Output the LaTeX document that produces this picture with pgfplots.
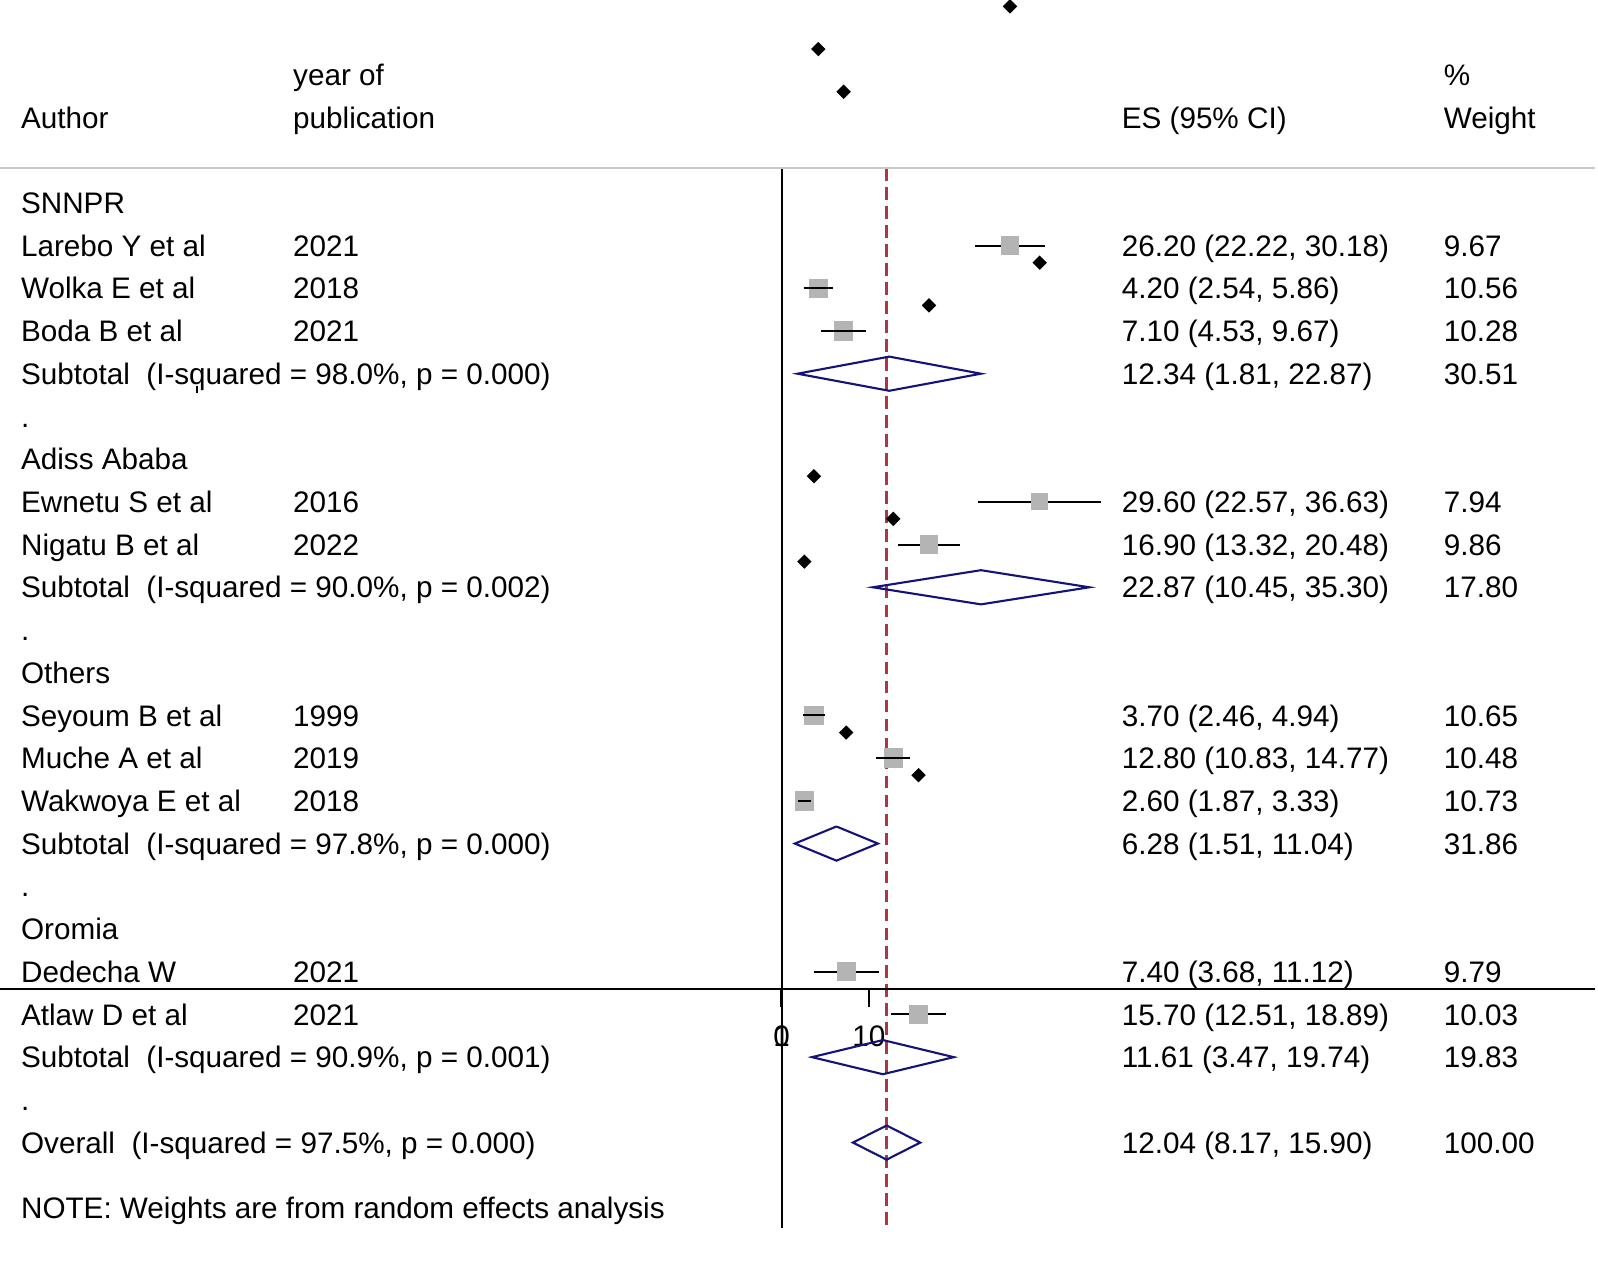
\documentclass[border=0pt]{standalone}
\usepackage{fontspec}
\setmainfont{Liberation Sans}
\usepackage{pgfplots}
\pgfplotsset{compat=1.18}
\usepackage{pgfplotstable}

\definecolor{boxgray}{RGB}{180,180,180}
\definecolor{dnavy}{RGB}{20,20,120}
\definecolor{refred}{RGB}{170,55,65}
\definecolor{rulegray}{RGB}{200,200,200}

% row = line of the table, es/lo/hi = estimate and CI, w = % weight
% top = 1 where the CI line is drawn over the box
\pgfplotstableread{
row es lo hi w top
1 26.20 22.22 30.18 9.67 0
2 4.20 2.54 5.86 10.56 1
3 7.10 4.53 9.67 10.28 1
7 29.60 22.57 36.63 7.94 0
8 16.90 13.32 20.48 9.86 0
12 3.70 2.46 4.94 10.65 1
13 12.80 10.83 14.77 10.48 1
14 2.60 1.87 3.33 10.73 1
18 7.40 3.68 11.12 9.79 0
19 15.70 12.51 18.89 10.03 0
}\studies

% one table row of text: row, author, year, ES (CI), weight
\newcommand{\trow}[5]{%
  \node[txt] at (axis cs:-87.37,#1+0.25) {#2};
  \node[txt] at (axis cs:-56.14,#1+0.25) {#3};
  \node[txt] at (axis cs:38.95,#1+0.25) {#4};
  \node[txt] at (axis cs:75.91,#1+0.25) {#5};
}

\begin{document}
\begin{tikzpicture}[font=\fontsize{8.44}{10.1}\selectfont,
  txt/.style={anchor=base west, inner sep=0pt}]
\begin{axis}[
    scale only axis,
    width=454.6pt, height=360.2pt,
    xmin=-89.71, xmax=93.68,
    ymin=-4.749, ymax=24.893,
    y dir=reverse,
    hide axis,
    clip=false,
    clip marker paths=true,
]
\coordinate (c1) at (rel axis cs:0,0);
\coordinate (c2) at (rel axis cs:1,1);

% reference line at the overall estimate
\addplot[refred, line width=0.7pt, dash pattern=on 3.6pt off 1.8pt] coordinates {(12.04,-0.81) (12.04,24.01)};
% null line
\addplot[black, line width=0.6pt] coordinates {(0,-0.81) (0,24.01)};
% header rule
\addplot[rulegray, line width=0.6pt] coordinates {(-89.71,-0.81) (93.33,-0.81)};
% x axis drawn across the rows
\addplot[black, line width=0.55pt] coordinates {(-89.71,18.40) (93.33,18.40)};
\addplot[black, line width=0.9pt] coordinates {(0,18.40) (0,18.83)};
\addplot[black, line width=0.55pt] coordinates {(10,18.40) (10,18.83)};
\node[anchor=base, inner sep=0pt] at (axis cs:0,19.74) {0};
\node[anchor=base, inner sep=0pt] at (axis cs:0,19.74) {1};
\node[anchor=base, inner sep=0pt] at (axis cs:10,19.74) {10};

% confidence intervals
\addplot[black, line width=0.6pt, mark=none,
  quiver={u=\thisrow{hi}-\thisrow{lo}, v=0}]
  table[x=lo, y=row] {\studies};

% weighted boxes
\addplot[scatter, only marks, mark=square*,
  scatter/use mapped color={draw=boxgray, fill=boxgray},
  visualization depends on={0.788*sqrt(\thisrow{w}) \as \msz},
  scatter/@pre marker code/.append style={/tikz/mark size=\msz pt}]
  table[x=es, y=row] {\studies};

% CI lines that lie over their box (zero length where top = 0)
\addplot[black, line width=0.6pt, mark=none, line cap=butt,
  quiver={u=(\thisrow{hi}-\thisrow{lo})*\thisrow{top}, v=0}]
  table[x=lo, y=row] {\studies};

% pooled diamonds
\addplot[dnavy, line width=0.6pt] coordinates {(12.34,3.6) (22.87,4) (12.34,4.4) (1.81,4) (12.34,3.6)};
\addplot[dnavy, line width=0.6pt] coordinates {(22.87,8.6) (35.30,9) (22.87,9.4) (10.45,9) (22.87,8.6)};
\addplot[dnavy, line width=0.6pt] coordinates {(6.28,14.6) (11.04,15) (6.28,15.4) (1.51,15) (6.28,14.6)};
\addplot[dnavy, line width=0.6pt] coordinates {(11.61,19.6) (19.74,20) (11.61,20.4) (3.47,20) (11.61,19.6)};
\addplot[dnavy, line width=0.6pt] coordinates {(12.04,21.6) (15.90,22) (12.04,22.4) (8.17,22) (12.04,21.6)};

% point estimates, drawn shifted up
\addplot[only marks, mark=square*, mark size=1.25pt, black,
  mark options={rotate=45}]
  table[x=es, y expr=\thisrow{row}-5.6] {\studies};

% text columns
\node[txt] at (axis cs:-56.14,-2.75) {year of};
\node[txt] at (axis cs:75.91,-2.75) {\%};
\node[txt] at (axis cs:-87.37,-1.75) {Author};
\node[txt] at (axis cs:-56.14,-1.75) {publication};
\node[txt] at (axis cs:38.95,-1.75) {ES (95\% CI)};
\node[txt] at (axis cs:75.91,-1.75) {Weight};

\node[txt] at (axis cs:-87.37,0.25) {SNNPR};
\trow{1}{Larebo Y et al}{2021}{26.20 (22.22, 30.18)}{9.67}
\trow{2}{Wolka E et al}{2018}{4.20 (2.54, 5.86)}{10.56}
\trow{3}{Boda B et al}{2021}{7.10 (4.53, 9.67)}{10.28}
\trow{4}{Subtotal\ \ (I-squared = 98.0\%, p = 0.000)}{}{12.34 (1.81, 22.87)}{30.51}
\node[txt] at (axis cs:-87.37,5.25) {.};
\node[txt] at (axis cs:-87.37,6.25) {Adiss Ababa};
\trow{7}{Ewnetu S et al}{2016}{29.60 (22.57, 36.63)}{7.94}
\trow{8}{Nigatu B et al}{2022}{16.90 (13.32, 20.48)}{9.86}
\trow{9}{Subtotal\ \ (I-squared = 90.0\%, p = 0.002)}{}{22.87 (10.45, 35.30)}{17.80}
\node[txt] at (axis cs:-87.37,10.25) {.};
\node[txt] at (axis cs:-87.37,11.25) {Others};
\trow{12}{Seyoum B et al}{1999}{3.70 (2.46, 4.94)}{10.65}
\trow{13}{Muche A et al}{2019}{12.80 (10.83, 14.77)}{10.48}
\trow{14}{Wakwoya E et al}{2018}{2.60 (1.87, 3.33)}{10.73}
\trow{15}{Subtotal\ \ (I-squared = 97.8\%, p = 0.000)}{}{6.28 (1.51, 11.04)}{31.86}
\node[txt] at (axis cs:-87.37,16.25) {.};
\node[txt] at (axis cs:-87.37,17.25) {Oromia};
\trow{18}{Dedecha W}{2021}{7.40 (3.68, 11.12)}{9.79}
\trow{19}{Atlaw D et al}{2021}{15.70 (12.51, 18.89)}{10.03}
\trow{20}{Subtotal\ \ (I-squared = 90.9\%, p = 0.001)}{}{11.61 (3.47, 19.74)}{19.83}
\node[txt] at (axis cs:-87.37,21.25) {.};
\trow{22}{Overall\ \ (I-squared = 97.5\%, p = 0.000)}{}{12.04 (8.17, 15.90)}{100.00}
\node[txt] at (axis cs:-87.37,23.78) {NOTE: Weights are from random effects analysis};

% small stray stroke under the first subtotal label
\draw[black, line width=0.4pt] (axis cs:-67.1,4.28) -- (axis cs:-67.1,4.45);
\end{axis}
\pgfresetboundingbox
\path (c1) rectangle (c2);
\end{tikzpicture}
\end{document}
